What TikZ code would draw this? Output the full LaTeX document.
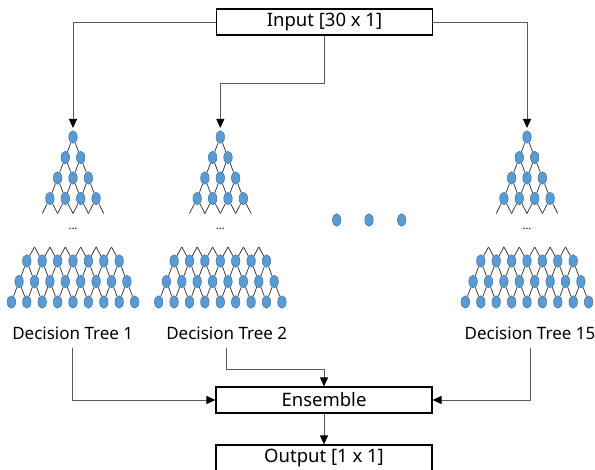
\documentclass[tikz,border=0pt]{standalone}
\usepackage{fontspec}
\setmainfont{Noto Sans}
\usepackage{tikz}
\usetikzlibrary{arrows.meta, shapes.geometric}

\definecolor{leafblue}{HTML}{5B9BD5}
\definecolor{leafedge}{HTML}{41719C}

\tikzset{
  leaf/.style={ellipse, draw=leafedge, fill=leafblue, line width=0.5pt,
               inner sep=0pt, minimum width=8.5pt, minimum height=12.5pt},
  box/.style={draw=black, line width=1.2pt, minimum width=216pt,
              minimum height=26pt, inner sep=0pt,
              font=\fontsize{18.5}{21}\selectfont},
  lbl/.style={inner sep=3pt, font=\fontsize{17}{20}\selectfont},
  link/.style={draw=black!65, line width=0.9pt},
  branch/.style={draw=black!80, line width=0.75pt},
}

\begin{document}
\begin{tikzpicture}[x=1pt, y=-1pt, >={Triangle[black, length=9pt, width=8pt]}]
\useasboundingbox (0,0) rectangle (595,470);

% boxes
\node[box] (in) at (324.5,22) {Input [30 x 1]};
\node[box] (ens) at (324,400) {Ensemble};
\node[box] (out) at (324,458) {Output [1 x 1]};

% trees
\foreach \t/\cx in {1/73, 2/220.3, 3/527} {
    % upper part
    \foreach \l in {0,...,3} {
        \foreach \k in {0,...,\l} {
            \node[leaf] (t\t-u\l-\k) at ({\cx+(\k-\l/2)*15.4}, {137+20.5*\l}) {};
        }
    }
    \foreach \j in {0,...,4}
        \coordinate (t\t-d\j) at ({\cx+(\j-2)*15.4}, 213.5);
    \foreach \l in {0,1,2} {
        \foreach \k in {0,...,\l} {
            \pgfmathtruncatemacro\m{\l+1}
            \pgfmathtruncatemacro\n{\k+1}
            \draw[branch] (t\t-u\l-\k) -- (t\t-u\m-\k);
            \draw[branch] (t\t-u\l-\k) -- (t\t-u\m-\n);
        }
    }
    \foreach \k in {0,...,3} {
        \pgfmathtruncatemacro\n{\k+1}
        \draw[branch] (t\t-u3-\k) -- (t\t-d\k);
        \draw[branch] (t\t-u3-\k) -- (t\t-d\n);
    }

    \node[font=\fontsize{11}{12}\selectfont] (t\t-gap) at (\cx,229) {...};

    % lower part
    \foreach \r in {0,1,2} {
        \pgfmathtruncatemacro\last{6+\r}
        \foreach \i in {0,...,\last} {
            \node[leaf] (t\t-r\r-\i) at ({\cx+(\i-\last/2)*15.4}, {261+20.5*\r}) {};
        }
    }
    \foreach \j in {0,...,5}
        \coordinate (t\t-p\j) at ({\cx+(\j-2.5)*15.4}, 247);
    \foreach \j in {0,...,5} {
        \pgfmathtruncatemacro\n{\j+1}
        \draw[branch] (t\t-p\j) -- (t\t-r0-\j);
        \draw[branch] (t\t-p\j) -- (t\t-r0-\n);
    }
    \foreach \r in {0,1} {
        \pgfmathtruncatemacro\last{6+\r}
        \pgfmathtruncatemacro\s{\r+1}
        \foreach \i in {0,...,\last} {
            \pgfmathtruncatemacro\n{\i+1}
            \draw[branch] (t\t-r\r-\i) -- (t\t-r\s-\i);
            \draw[branch] (t\t-r\r-\i) -- (t\t-r\s-\n);
        }
    }
}

% more trees
\node[leaf] (dot1) at (336.7,220) {};
\node[leaf] (dot2) at (369,220) {};
\node[leaf] (dot3) at (401.7,220) {};

% labels
\node[lbl] (lbl1) at (72.7,333) {Decision Tree 1};
\node[lbl] (lbl2) at (226.7,333) {Decision Tree 2};
\node[lbl] (lbl3) at (530,333) {Decision Tree 15};

% input to trees
\coordinate (bend2) at (324.5,83);
\draw[link, ->, shorten >=2.5pt] (in.west) -| (t1-u0-0.north);
\draw[link, ->, shorten >=2.5pt] (in.south) -- (bend2) -| (t2-u0-0.north);
\draw[link, ->, shorten >=2.5pt] (in.east) -| (t3-u0-0.north);

% trees to ensemble
\coordinate (bend5) at (324,369);
\draw[link, ->, shorten <=5pt] (lbl1.south) |- (ens.west);
\draw[link, ->, shorten <=5pt] (lbl2.south) |- (bend5) -- (ens.north);
\draw[link, ->, shorten <=5pt] (lbl3.south) |- (ens.east);
\draw[link, ->] (ens) -- (out);
\end{tikzpicture}
\end{document}
